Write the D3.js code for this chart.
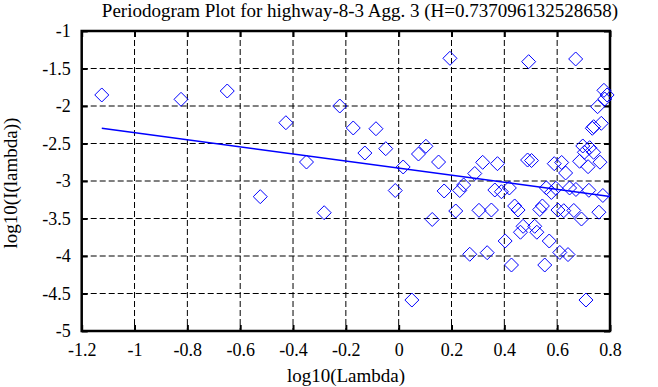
<!DOCTYPE html>
<html>
<head>
<meta charset="utf-8">
<script src="https://cdn.jsdelivr.net/npm/d3@7"></script>
<style>
  html, body { margin: 0; padding: 0; background: #fff; }
  svg { display: block; }
  svg text { font-family: "Liberation Serif", "DejaVu Serif", serif !important; fill: #000; }
</style>
</head>
<body>
<svg id="chart" width="658" height="387"></svg>
<script>
const titleText = "Periodogram Plot for highway-8-3 Agg. 3 (H=0.737096132528658)";
const xLabel = "log10(Lambda)";
const yLabel = "log10(I(lambda))";
const xTicks = [-1.2, -1, -0.8, -0.6, -0.4, -0.2, 0, 0.2, 0.4, 0.6, 0.8];
const yTicks = [-1, -1.5, -2, -2.5, -3, -3.5, -4, -4.5, -5];

const pointX = [-1.124,-0.824,-0.649,-0.524,-0.427,-0.349,-0.282,-0.223,-0.172,-0.128,
  -0.086,-0.049,-0.013,0.017,0.050,0.075,0.103,0.127,0.151,0.172,
  0.194,0.216,0.231,0.246,0.269,0.288,0.304,0.318,0.335,0.351,
  0.364,0.374,0.389,0.403,0.419,0.427,0.439,0.452,0.461,0.471,
  0.488,0.492,0.503,0.515,0.523,0.534,0.544,0.553,0.559,0.570,
  0.578,0.589,0.595,0.603,0.610,0.617,0.625,0.632,0.641,0.647,
  0.671,0.670,0.663,0.685,0.692,0.697,0.703,0.709,0.717,0.720,
  0.723,0.733,0.738,0.738,0.753,0.758,0.762,0.767,0.773,0.777,
  0.789,0.780];
const pointY = [-1.853,-1.911,-1.800,-3.209,-2.223,-2.747,-3.423,-2.000,-2.293,-2.627,
  -2.303,-2.569,-3.127,-2.813,-4.587,-2.640,-2.537,-3.513,-2.747,-3.133,
  -1.364,-3.400,-3.127,-3.053,-3.977,-2.900,-3.391,-2.751,-3.956,-3.387,
  -3.120,-2.769,-3.143,-3.800,-3.093,-4.120,-3.333,-3.387,-3.683,-3.604,
  -2.720,-1.409,-2.727,-3.604,-3.683,-3.380,-3.333,-4.120,-3.091,-3.800,
  -3.153,-2.769,-3.097,-3.387,-3.953,-2.753,-3.396,-2.893,-3.981,-3.093,
  -3.113,-1.373,-3.393,-2.737,-3.507,-2.533,-2.617,-4.587,-2.809,-3.124,
  -2.556,-2.297,-2.276,-2.617,-2.009,-3.416,-2.749,-2.231,-3.193,-1.791,
  -1.853,-1.907];

const fitX = [-1.124, 0.8];
const fitY = [-2.297, -3.206];

const svg = d3.select("#chart");
const L = 81.7, R = 610, T = 31, B = 331;
const x = d3.scaleLinear().domain([-1.2, 0.8]).range([L, R]);
const y = d3.scaleLinear().domain([-5, -1]).range([B, T]);
const fmt = d => String(+(+d).toFixed(1));

// grid
const grid = svg.append("g");
grid.selectAll("line.gx").data(xTicks.slice(1, -1)).enter().append("line")
  .attr("x1", d => x(d)).attr("x2", d => x(d)).attr("y1", T).attr("y2", B)
  .attr("stroke", "#000").attr("stroke-width", 1).attr("stroke-dasharray", "6,3");
grid.selectAll("line.gy").data(yTicks.slice(1, -1)).enter().append("line")
  .attr("y1", d => y(d)).attr("y2", d => y(d)).attr("x1", L).attr("x2", R)
  .attr("stroke", "#000").attr("stroke-width", 1).attr("stroke-dasharray", "6,3");

// axes with inward ticks on all four sides
const tickLen = 6;
const axB = svg.append("g").attr("transform", `translate(0,${B})`)
  .call(d3.axisBottom(x).tickValues(xTicks).tickSize(-tickLen).tickSizeOuter(0).tickFormat(fmt));
const axT = svg.append("g").attr("transform", `translate(0,${T})`)
  .call(d3.axisTop(x).tickValues(xTicks).tickSize(-tickLen).tickSizeOuter(0).tickFormat(""));
const axL = svg.append("g").attr("transform", `translate(${L},0)`)
  .call(d3.axisLeft(y).tickValues(yTicks).tickSize(-tickLen).tickSizeOuter(0).tickFormat(fmt));
const axR = svg.append("g").attr("transform", `translate(${R},0)`)
  .call(d3.axisRight(y).tickValues(yTicks).tickSize(-tickLen).tickSizeOuter(0).tickFormat(""));
[axB, axT, axL, axR].forEach(a => {
  a.attr("font-family", null).attr("font-size", null);
  a.select(".domain").remove();
  a.selectAll(".tick line").attr("stroke", "#000").attr("stroke-width", 2);
  a.selectAll("text").style("font-family", "'Liberation Serif', serif").style("font-size", "18px").attr("fill", "#000");
});
axB.selectAll("text").attr("dy", null).attr("y", 25);
axL.selectAll("text").attr("x", -11).attr("dy", "0.32em");

// frame
svg.append("rect").attr("x", L).attr("y", T).attr("width", R - L).attr("height", B - T)
  .attr("fill", "none").attr("stroke", "#000").attr("stroke-width", 2.5);

// points
const pts = pointX.map((d, i) => [d, pointY[i]]);
const s = 7;
svg.append("g").selectAll("path").data(pts).enter().append("path")
  .attr("d", d => {
    const cx = x(d[0]), cy = y(d[1]);
    return `M${cx},${cy - s}L${cx + s},${cy}L${cx},${cy + s}L${cx - s},${cy}Z`;
  })
  .attr("fill", "none").attr("stroke", "#0000ff").attr("stroke-width", 1);

// fit line
svg.append("path").datum(fitX.map((d, i) => [d, fitY[i]]))
  .attr("d", d3.line().x(d => x(d[0])).y(d => y(d[1])))
  .attr("fill", "none").attr("stroke", "#0000ff").attr("stroke-width", 1.6);

// titles
svg.append("text").attr("x", 360).attr("y", 17).attr("text-anchor", "middle")
  .style("font-size", "19px").text(titleText);
svg.append("text").attr("x", 346).attr("y", 382).attr("text-anchor", "middle")
  .style("font-size", "19px").text(xLabel);
svg.append("text").attr("transform", "translate(17,183) rotate(-90)").attr("text-anchor", "middle")
  .style("font-size", "19px").text(yLabel);
</script>
</body>
</html>
